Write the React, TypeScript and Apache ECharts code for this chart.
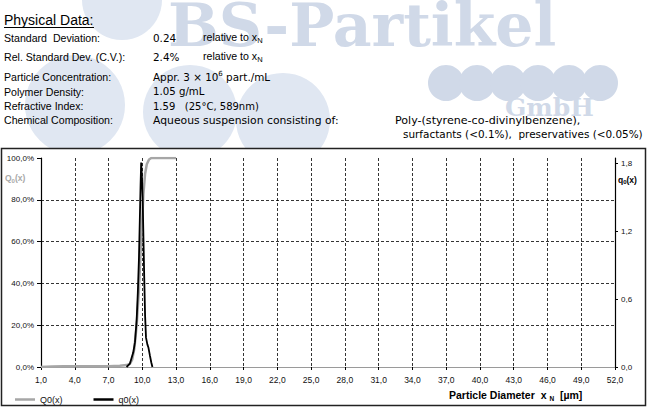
import React, { useEffect, useRef } from "react";
import * as echarts from "echarts";

// ---- data ----
const X_MIN = 1;
const X_MAX = 52;
const X_STEP = 3;
const LEFT_MAX = 100;
const LEFT_STEP = 20;
const RIGHT_MAX = 1.85;
const RIGHT_TICKS = [0, 0.6, 1.2, 1.8];

// cumulative number distribution Q0(x) in %
const Q0_DIAM = [1.0, 2.0, 3.0, 5.0, 7.0, 8.0, 8.6, 8.9, 9.1, 9.3, 9.5, 9.7, 9.85, 10.0, 10.1, 10.25, 10.4, 10.6, 10.8, 13.0];
const Q0_PCT = [0, 0.2, 0.3, 0.3, 0.4, 0.6, 0.9, 1.5, 3.5, 9, 20, 37, 55, 71, 83, 92.5, 97, 99.3, 100, 100];

// density distribution q0(x)
const q0_DIAM = [8.6, 8.9, 9.2, 9.35, 9.5, 9.6, 9.7, 9.78, 9.85, 9.9, 9.96, 10.03, 10.1, 10.17, 10.25, 10.33, 10.45, 10.55, 10.68, 10.8, 10.9];
const q0_VAL = [0, 0.03, 0.13, 0.22, 0.42, 0.65, 0.95, 1.3, 1.62, 1.81, 1.7, 1.5, 1.15, 0.8, 0.45, 0.26, 0.2, 0.17, 0.1, 0.04, 0];

const INFO_LABELS = [
  "Standard  Deviation:",
  "Rel. Standard Dev. (C.V.):",
  "Particle Concentration:",
  "Polymer Density:",
  "Refractive Index:",
  "Chemical Composition:",
];
const INFO_VALUES = [
  "0.24",
  "2.4%",
  "Appr. 3 × 10{s|6} part./mL",
  "1.05 g/mL",
  "1.59   (25°C, 589nm)",
  "Aqueous suspension consisting of:",
];
const INFO_VALUE_SIZES = [10.4, 10.4, 10.4, 10.2, 10.0, 10.8];
const RELATIVE_TEXT = "relative to x{n|N}";
const COMPOSITION_LINES = ["Poly-(styrene-co-divinylbenzene),", "surfactants (<0.1%),  preservatives (<0.05%)"];
const LEGEND_NAMES = ["Q0(x)", "q0(x)"];

const FONT = "'Liberation Sans', Arial, sans-serif";
const WIDE = "'DejaVu Sans', 'Liberation Sans', sans-serif";
const SERIF = "'DejaVu Serif', 'Liberation Serif', serif";

function txt(text: string, x: number, baseline: number, fs: number, extra: any = {}) {
  return {
    type: "text",
    x,
    y: extra.cy ?? baseline - 0.35 * fs,
    z: extra.z ?? 5,
    style: {
      text,
      fontSize: fs,
      fontFamily: extra.fontFamily ?? FONT,
      fontWeight: extra.fontWeight ?? "normal",
      fill: extra.fill ?? "#000",
      align: "left",
      verticalAlign: "middle",
      lineHeight: extra.lineHeight ?? Math.round(fs * 1.3),
      rich: extra.rich,
    },
  };
}

const subRich = (fs: number, fill = "#000", weight = "normal", fam = FONT) => ({
  n: { fontSize: fs, lineHeight: fs, verticalAlign: "bottom", fill, fontWeight: weight, fontFamily: fam },
  s: { fontSize: fs, lineHeight: fs, verticalAlign: "top", fill, fontWeight: weight, fontFamily: fam },
});

const fmtComma = (v: number, d = 1) => v.toFixed(d).replace(".", ",");

export default function App() {
  const ref = useRef<HTMLDivElement>(null);
  useEffect(() => {
    document.body.style.margin = "0";
    if (!ref.current) return;
    const chart = echarts.init(ref.current, null, { renderer: "svg" });

    const wm = "#e0e7f2";
    const wmText = "#d0d9e8";
    const circles = [
      [122, 0, 40],
      [75, 105, 50],
      [190, 112, 47],
      [283, 120, 47],
    ].map(([cx, cy, r]) => ({ type: "circle", z: -10, shape: { cx, cy, r }, style: { fill: wm } }));
    const rowCircles = [446, 477, 508, 538, 569, 600].map((cx) => ({
      type: "circle",
      z: -10,
      shape: { cx, cy: 83, r: 18 },
      style: { fill: wmText },
    }));

    const baselines = [41.5, 61, 81, 95.5, 109.5, 124];
    const graphic: any[] = [
      ...circles,
      ...rowCircles,
      txt("BS-Partikel", 168, 50, 60, {
        fontFamily: SERIF,
        fontWeight: "bold",
        fill: wmText,
        z: -9,
        lineHeight: 46,
        cy: 25,
      }),
      txt("GmbH", 505, 116, 25, { fontFamily: SERIF, fontWeight: "bold", fill: wmText, z: -9, lineHeight: 26 }),
      // frame
      {
        type: "rect",
        z: -5,
        shape: { x: 1.5, y: 148.5, width: 644, height: 257 },
        style: { fill: "#fff", stroke: "#222", lineWidth: 1.5 },
      },
      txt("Physical Data:", 4, 25, 14),
      { type: "line", z: 5, shape: { x1: 4, y1: 27.5, x2: 94, y2: 27.5 }, style: { stroke: "#000", lineWidth: 1 } },
      ...INFO_LABELS.map((t, i) => txt(t, 4, baselines[i], 10.6)),
      ...INFO_VALUES.map((t, i) =>
        txt(t, 153, baselines[i], INFO_VALUE_SIZES[i], {
          fontFamily: WIDE,
          lineHeight: 14,
          rich: subRich(7, "#000", "normal", WIDE),
        })
      ),
      txt(RELATIVE_TEXT, 203, 41, 10.6, { lineHeight: 14, rich: subRich(7.5) }),
      txt(RELATIVE_TEXT, 203, 60, 10.6, { lineHeight: 14, rich: subRich(7.5) }),
      txt(COMPOSITION_LINES[0], 395, 124, 11.1, { fontFamily: WIDE }),
      txt(COMPOSITION_LINES[1], 403, 138, 10.45, { fontFamily: WIDE }),
      // axis names
      txt("Q{n|0}(x)", 5, 181, 8.5, {
        fill: "#a8a8a8",
        fontWeight: "bold",
        lineHeight: 11,
        rich: subRich(6, "#a8a8a8", "bold"),
      }),
      txt("q{n|0}(x)", 618, 182.5, 8.5, { fontWeight: "bold", lineHeight: 11, rich: subRich(6, "#000", "bold") }),
      txt("Particle Diameter  x {n|N}  [µm]", 449, 398.5, 10.5, {
        fontWeight: "bold",
        lineHeight: 14,
        rich: subRich(6.5, "#000", "bold"),
      }),
    ];

    const option: any = {
      animation: false,
      backgroundColor: "#fff",
      textStyle: { fontFamily: FONT },
      grid: { left: 41, right: 37, top: 158, bottom: 40, containLabel: false },
      legend: {
        data: [
          { name: LEGEND_NAMES[0], itemStyle: { color: "#a6a6a6" } },
          { name: LEGEND_NAMES[1], itemStyle: { color: "#000" } },
        ],
        left: 15,
        top: 395,
        padding: 0,
        icon: "rect",
        itemWidth: 20,
        itemHeight: 2.5,
        itemGap: 31,
        textStyle: { fontSize: 9, color: "#111", fontFamily: FONT },
      },
      xAxis: [
        {
          type: "value",
          min: X_MIN,
          max: X_MAX,
          interval: X_STEP,
          axisLine: { show: true, lineStyle: { color: "#000", width: 1.2 } },
          axisTick: { show: true, length: 3, lineStyle: { color: "#000" } },
          axisLabel: { fontSize: 8.5, color: "#111", margin: 8, formatter: (v: number) => fmtComma(v) },
          splitLine: {
            show: true,
            showMinLine: false,
            showMaxLine: false,
            lineStyle: { color: "#000", type: [3, 2], width: 0.8 },
          },
        },
        {
          type: "value",
          position: "top",
          min: X_MIN,
          max: X_MAX,
          axisLine: { show: true, lineStyle: { color: "#9a9a9a", width: 1.2 } },
          axisTick: { show: false },
          axisLabel: { show: false },
          splitLine: { show: false },
        },
      ],
      yAxis: [
        {
          type: "value",
          min: 0,
          max: LEFT_MAX,
          interval: LEFT_STEP,
          axisLine: { show: true, lineStyle: { color: "#000", width: 1.2 } },
          axisTick: { show: true, length: 4, lineStyle: { color: "#000" } },
          axisLabel: { fontSize: 8, color: "#111", margin: 7, formatter: (v: number) => fmtComma(v) + "%" },
          splitLine: {
            show: true,
            showMinLine: false,
            showMaxLine: false,
            lineStyle: { color: "#000", type: [3, 2], width: 0.8 },
          },
        },
        {
          type: "value",
          position: "right",
          min: 0,
          max: RIGHT_MAX,
          axisLine: { show: true, lineStyle: { color: "#000", width: 1.2 } },
          axisTick: { show: true, length: 3, customValues: RIGHT_TICKS, lineStyle: { color: "#000" } },
          axisLabel: {
            fontSize: 8,
            color: "#111",
            margin: 6,
            customValues: RIGHT_TICKS,
            formatter: (v: number) =>
              RIGHT_TICKS.some((t) => Math.abs(t - v) < 1e-6) ? fmtComma(v) : "",
          },
          splitLine: { show: false },
        },
      ],
      series: [
        {
          name: LEGEND_NAMES[0],
          type: "line",
          xAxisIndex: 0,
          yAxisIndex: 0,
          data: Q0_DIAM.map((d, i) => [d, Q0_PCT[i]]),
          showSymbol: false,
          lineStyle: { color: "#a6a6a6", width: 2.5 },
          itemStyle: { color: "#a6a6a6" },
          z: 2,
        },
        {
          name: LEGEND_NAMES[1],
          type: "line",
          xAxisIndex: 0,
          yAxisIndex: 1,
          data: q0_DIAM.map((d, i) => [d, q0_VAL[i]]),
          showSymbol: false,
          lineStyle: { color: "#000", width: 1.8 },
          itemStyle: { color: "#000" },
          z: 3,
        },
      ],
      graphic,
    };
    chart.setOption(option);
    return () => chart.dispose();
  }, []);
  return <div ref={ref} style={{ width: 652, height: 407 }} />;
}
